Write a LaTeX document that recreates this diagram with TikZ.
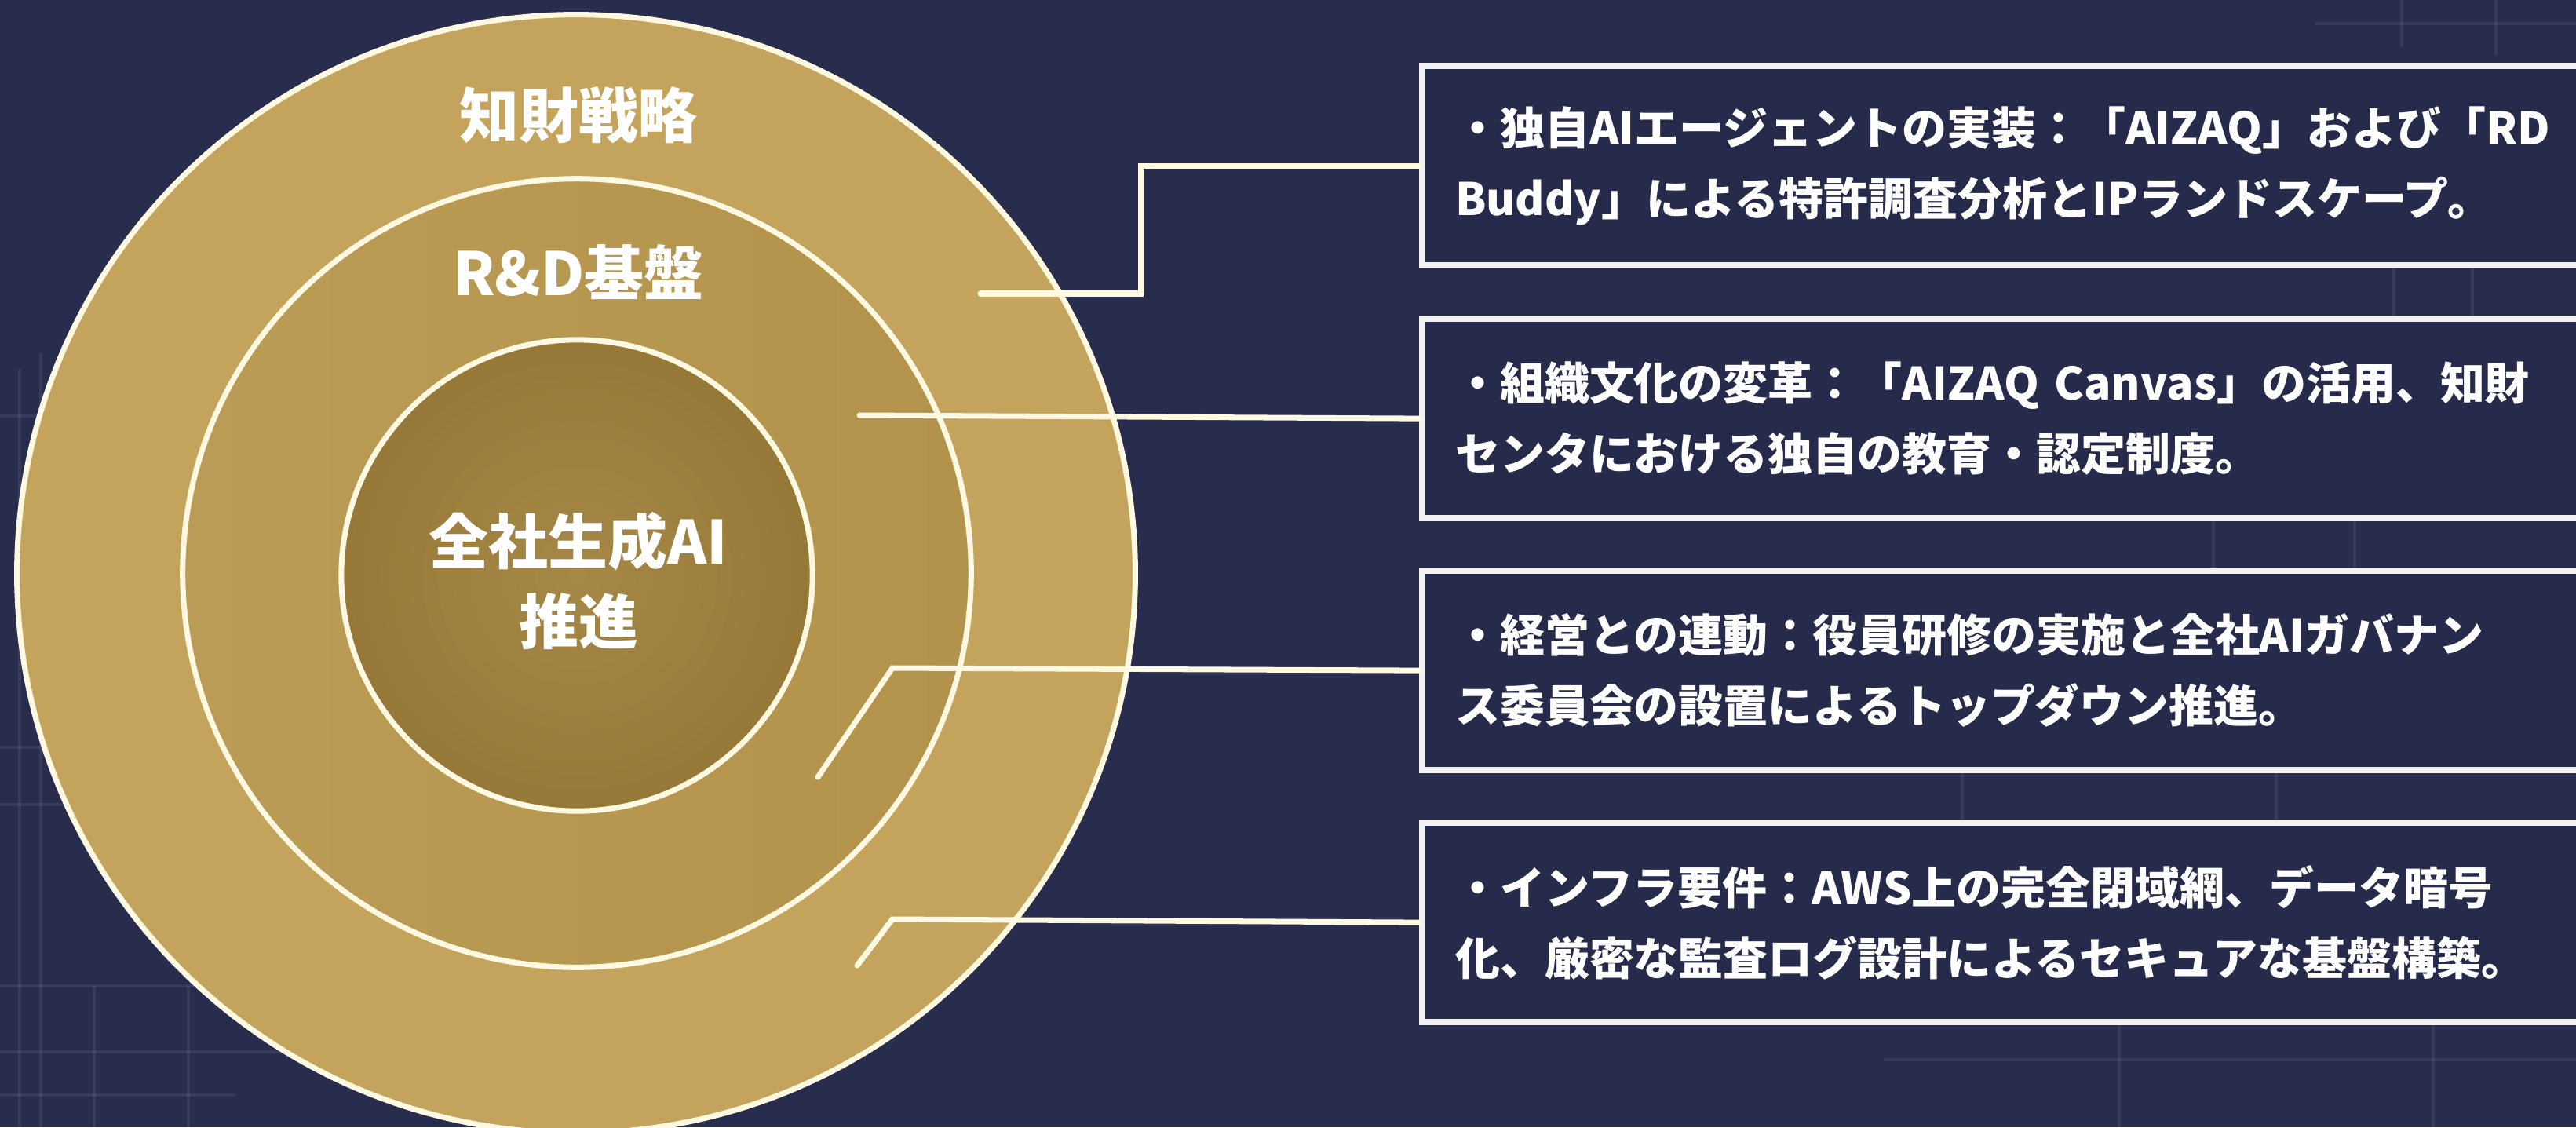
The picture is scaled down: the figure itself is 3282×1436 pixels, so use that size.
\documentclass[tikz,border=0pt]{standalone}
\usepackage{fontspec}
\setmainfont{Noto Sans CJK JP}
\definecolor{bg}{HTML}{282D4D}
\definecolor{boxfill}{HTML}{272B4B}
\definecolor{goldA}{HTML}{C4A45C}
\definecolor{goldB1}{HTML}{BB9C56}
\definecolor{goldB2}{HTML}{B3934B}
\definecolor{goldC1}{HTML}{A68846}
\definecolor{goldC2}{HTML}{967838}
\definecolor{cream}{HTML}{FFF9E2}
\definecolor{boxline}{HTML}{F2F2F2}
\begin{document}
\begin{tikzpicture}[x=0.01cm,y=-0.01cm,
  ring/.style={circle, draw=cream, line width=2pt, inner sep=0pt},
  lbl/.style={text=white, align=center, font=\bfseries\fontsize{21.6pt}{29pt}\selectfont},
  infobox/.style={rectangle, draw=boxline, line width=2.3pt, fill=boxfill,
    anchor=north west, minimum width=14.92cm, minimum height=2.54cm,
    text width=14.08cm, inner xsep=0.42cm, align=left, text=white,
    font=\bfseries\fontsize{16.2pt}{25.6pt}\selectfont},
  conn/.style={draw=cream, line width=2pt, line cap=round, line join=miter},
  bgline/.style={draw=white, opacity=0.07, line width=1pt}]
\useasboundingbox (0,0) rectangle (3282,1436);
\clip (0,0) rectangle (3282,1436);
\fill[bg] (0,0) rectangle (3282,1436);
% faint background drafting lines
\draw[bgline] (25,470) -- (25,1436);
\draw[bgline] (52,450) -- (52,1436);
\draw[bgline] (0,530) -- (110,530);
\draw[bgline] (0,952) -- (80,952);
\draw[bgline] (0,1025) -- (100,1025);
\draw[bgline] (0,1256) -- (270,1256);
\draw[bgline] (0,1340) -- (480,1340);
\draw[bgline] (120,1256) -- (120,1436);
\draw[bgline] (240,1256) -- (240,1436);
\draw[bgline] (0,1395) -- (300,1395);
\draw[bgline] (3060,0) -- (3060,60);
\draw[bgline] (3180,0) -- (3180,70);
\draw[bgline] (2950,30) -- (3282,30);
\draw[bgline] (3050,335) -- (3050,402);
\draw[bgline] (3150,335) -- (3150,402);
\draw[bgline] (2820,656) -- (2820,723);
\draw[bgline] (3000,656) -- (3000,723);
\draw[bgline] (2500,978) -- (2500,1044);
\draw[bgline] (2900,978) -- (2900,1044);
\draw[bgline] (2400,1350) -- (3282,1350);
\draw[bgline] (2700,1298) -- (2700,1436);
\draw[bgline] (3100,1298) -- (3100,1436);
% concentric circles
\node[ring, fill=goldA, minimum size=14.24cm] (outer) at (734,731) {};
\node[ring, left color=goldB1, right color=goldB2, minimum size=10.04cm] (middle) at (735,730) {};
\node[ring, inner color=goldC1, outer color=goldC2, minimum size=6.0cm] (inner) at (735,733) {};
% circle labels
\node[lbl] (lblIP) at (737,147) {知財戦略};
\node[lbl] (lblRD) at (737,347) {R\&D基盤};
\node[lbl] (lblAI) at (737,740) {全社生成AI\\推進};
% info boxes
\node[infobox] (box1) at (1808,80) {・独自AIエージェントの実装：「AIZAQ」および「RD\\Buddy」による特許調査分析とIPランドスケープ。};
\node[infobox] (box2) at (1808,402) {・組織文化の変革：「AIZAQ Canvas」の活用、知財\\センタにおける独自の教育・認定制度。};
\node[infobox] (box3) at (1808,723) {・経営との連動：役員研修の実施と全社AIガバナン\\ス委員会の設置によるトップダウン推進。};
\node[infobox] (box4) at (1808,1044) {・インフラ要件：AWS上の完全閉域網、データ暗号\\化、厳密な監査ログ設計によるセキュアな基盤構築。};
% connector start points
\coordinate (c1s) at (1249,374);
\coordinate (c2s) at (1095,529);
\coordinate (c3s) at (1042,990);
\coordinate (c4s) at (1092,1230);
% connectors
\draw[conn] (c1s) -- ++(204,0) |- (box1.west);
\draw[conn] (c2s) -- (box2.west);
\draw[conn] (c3s) -- ++(95,-139) -- (box3.west);
\draw[conn] (c4s) -- ++(45,-59) -- (box4.west);
\end{tikzpicture}
\end{document}
